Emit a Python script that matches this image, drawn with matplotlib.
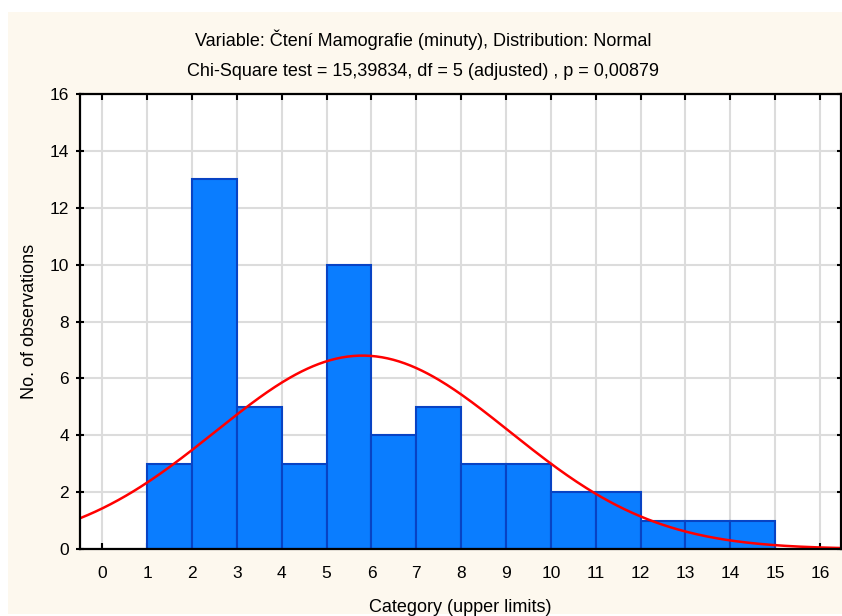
import numpy as np
import matplotlib.pyplot as plt
from matplotlib.patches import Rectangle

# data
bin_lower = [1, 2, 3, 4, 5, 6, 7, 8, 9, 10, 11, 12, 13, 14]
counts = [3, 13, 5, 3, 10, 4, 5, 3, 3, 2, 2, 1, 1, 1]
x_ticks = list(range(0, 17))
y_ticks = [0, 2, 4, 6, 8, 10, 12, 14, 16]

# fitted normal curve parameters (estimated from the curve)
fit_mean = 5.80
fit_sd = 3.285
n_obs = sum(counts)
bin_width = 1.0

title1 = "Variable: Čtení Mamografie (minuty), Distribution: Normal"
title2 = "Chi-Square test = 15,39834, df = 5 (adjusted) , p = 0,00879"

plt.rcParams['font.family'] = ['Liberation Sans', 'DejaVu Sans']

W, H = 842, 616
fig = plt.figure(figsize=(W / 100, H / 100), dpi=100, facecolor='white')
fig.patches.append(Rectangle((8 / W, 2 / H), 1, (H - 14) / H, transform=fig.transFigure,
                             facecolor='#fdf8ee', edgecolor='none', zorder=-10))

ax = fig.add_axes([80 / W, (H - 549) / H, (841 - 80) / W, (549 - 94) / H])
ax.set_facecolor('white')

ax.bar(bin_lower, counts, width=bin_width, align='edge', color='#0a7dff',
       edgecolor='#0843c4', linewidth=1.5, zorder=3)

xs = np.linspace(-0.5, 16.5, 400)
ys = n_obs * bin_width / (fit_sd * np.sqrt(2 * np.pi)) * np.exp(-0.5 * ((xs - fit_mean) / fit_sd) ** 2)
ax.plot(xs, ys, color='#ff0000', linewidth=1.8, zorder=4)

ax.set_xlim(-0.5, 16.47)
ax.set_ylim(0, 16)
ax.set_xticks(x_ticks)
ax.set_yticks(y_ticks)
ax.grid(True, color='#dcdcdc', linewidth=1.5, zorder=0)
ax.set_axisbelow(True)

for s in ax.spines.values():
    s.set_linewidth(1.6)
    s.set_color('black')
    s.set_zorder(5)

ax.tick_params(axis='both', labelsize=12.5, colors='black', width=1.5, length=4)
ax.tick_params(axis='x', direction='in', top=True, pad=12)
ax.tick_params(axis='y', which='both', right=True)
ax.yaxis.set_tick_params(which='major', direction='inout', length=6, pad=5)

ax.set_xlabel("Category (upper limits)", fontsize=13, labelpad=13)
ax.set_ylabel("No. of observations", fontsize=13, labelpad=8)

fig.text(423 / W, 1 - 40 / H, title1, ha='center', va='center', fontsize=13)
fig.text(423 / W, 1 - 71 / H, title2, ha='center', va='center', fontsize=13)

fig.savefig('out.png', dpi=100, facecolor=fig.get_facecolor())
